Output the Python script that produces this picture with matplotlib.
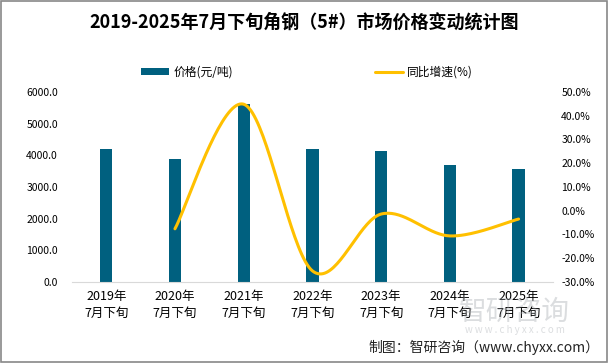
import matplotlib
matplotlib.use("Agg")
import matplotlib.pyplot as plt
from matplotlib.patches import Rectangle
import numpy as np

plt.rcParams['font.family'] = ['Noto Sans CJK SC', 'DejaVu Sans']

years = ["2019年\n7月下旬", "2020年\n7月下旬", "2021年\n7月下旬", "2022年\n7月下旬",
         "2023年\n7月下旬", "2024年\n7月下旬", "2025年\n7月下旬"]
price = [4200, 3880, 5620, 4200, 4140, 3700, 3570]
growth = [None, -7.6, 44.8, -25.3, -1.4, -10.6, -3.5]

BAR = "#00607F"
GOLD = "#FFC000"


def smooth(xs, ys, n=40):
    # catmull-rom style curve through the points, like excel smoothed lines
    xs, ys = np.asarray(xs, float), np.asarray(ys, float)
    px = np.concatenate([[xs[0]], xs, [xs[-1]]])
    py = np.concatenate([[ys[0]], ys, [ys[-1]]])
    ox, oy = [], []
    for i in range(1, len(px) - 2):
        t = np.linspace(0, 1, n)
        p0, p1, p2, p3 = [np.array([px[j], py[j]]) for j in range(i - 1, i + 3)]
        c1 = p1 + (p2 - p0) / 6
        c2 = p2 - (p3 - p1) / 6
        b = ((1 - t) ** 3)[:, None] * p1 + (3 * (1 - t) ** 2 * t)[:, None] * c1 \
            + (3 * (1 - t) * t ** 2)[:, None] * c2 + (t ** 3)[:, None] * p2
        ox.extend(b[:, 0]); oy.extend(b[:, 1])
    return np.array(ox), np.array(oy)


fig = plt.figure(figsize=(6.09, 3.63), dpi=100)
fig.patch.set_facecolor("white")
fig.add_artist(Rectangle((0.001, 0.002), 0.996, 0.996, transform=fig.transFigure,
                         fill=False, edgecolor="#888888", linewidth=1.2))

ax = fig.add_axes([0.118, 0.223, 0.790, 0.524])
x = np.arange(len(years))
bars = ax.bar(x, price, width=0.18, color=BAR, zorder=2)
ax.set_xlim(-0.5, len(years) - 0.5)
ax.set_ylim(0, 6000)
ax.set_yticks(np.arange(0, 6001, 1000))
ax.set_yticklabels([f"{v:.1f}" for v in np.arange(0, 6001, 1000)], fontsize=7.5)
ax.set_xticks(x)
ax.set_xticklabels(years, fontsize=9, linespacing=1.35)
ax.tick_params(length=0, pad=6)
ax.tick_params(axis='y', pad=10)
for s in ["top", "right", "left"]:
    ax.spines[s].set_visible(False)
ax.spines["bottom"].set_color("#D9D9D9")

ax2 = ax.twinx()
gx = [i for i, g in enumerate(growth) if g is not None]
gy = [g for g in growth if g is not None]
sx, sy = smooth(gx, gy)
line, = ax2.plot(sx, sy, color=GOLD, linewidth=2.2, zorder=3, solid_capstyle='round')
ax2.set_ylim(-30, 50)
ax2.set_yticks(np.arange(-30, 51, 10))
ax2.set_yticklabels([f"{v:.1f}%" for v in np.arange(-30, 51, 10)], fontsize=7.5)
ax2.tick_params(length=0, pad=6)
for s in ax2.spines.values():
    s.set_visible(False)

leg_kw = dict(loc="center left", frameon=False, fontsize=8.5, borderpad=0,
              borderaxespad=0, handlelength=2.4, handleheight=0.55, handletextpad=0.35)
fig.legend([bars.patches[0]], ["价格(元/吨)"], bbox_to_anchor=(141 / 609, 0.802), **leg_kw)
fig.legend([line], ["同比增速(%)"], bbox_to_anchor=(375 / 609, 0.802), **leg_kw)

fig.text(0.5, 0.94, "2019-2025年7月下旬角钢（5#）市场价格变动统计图",
         ha="center", va="center", fontsize=13, fontweight="bold")

# watermark
fig.text(0.845, 0.14, "智研咨询", ha="center", va="center", fontsize=20,
         color="#9AA0A6", alpha=0.35)
fig.text(0.845, 0.09, "w w w . c h y x x . c o m", ha="center", va="center",
         fontsize=7, color="#9AA0A6", alpha=0.35)

fig.text(0.985, 0.042, "制图：智研咨询（www.chyxx.com）", ha="right", va="center",
         fontsize=10, color="#222222")

fig.savefig("out.png", dpi=100, facecolor="white")
